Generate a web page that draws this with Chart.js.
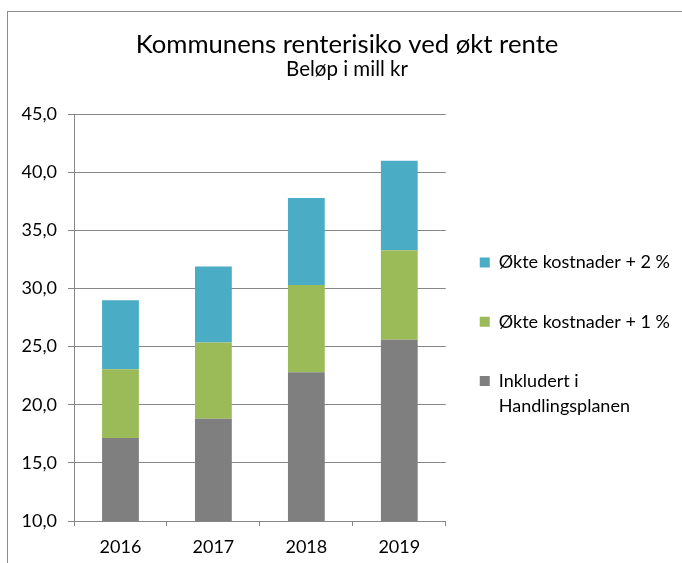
<!DOCTYPE html>
<html>
<head>
<meta charset="utf-8">
<script src="https://cdn.jsdelivr.net/npm/chart.js@4/dist/chart.umd.min.js"></script>
<style>
  html, body { margin: 0; padding: 0; background: #fff; overflow: hidden; }
  #wrap { position: relative; width: 682px; height: 563px; }
  #frame {
    position: absolute; left: 7px; top: 11px; width: 700px; height: 600px;
    border-left: 1px solid #8c8c8c; border-top: 1px solid #8c8c8c;
    pointer-events: none;
  }
</style>
</head>
<body>
<div id="wrap">
  <canvas id="renteChart" width="682" height="563"></canvas>
  <div id="frame"></div>
</div>
<script>
const years = ["2016", "2017", "2018", "2019"];
const inkludert = [17.15, 18.8, 22.8, 25.6];
const okt1 = [5.9, 6.55, 7.5, 7.7];
const okt2 = [5.95, 6.55, 7.5, 7.7];
const seriesNames = ["Inkludert i\nHandlingsplanen", "Økte kostnader + 1 %", "Økte kostnader + 2 %"];
const seriesColors = ["#7f7f7f", "#9bbb59", "#4bacc6"];

const gridColor = "#868686";
const fontFamily = "Lato, 'Open Sans', sans-serif";
const textColor = "#000";

const ctx = document.getElementById("renteChart").getContext("2d");

const myChart = new Chart(ctx, {
    type: "bar",
    data: {
        labels: years,
        datasets: [inkludert, okt1, okt2].map((vals, i) => ({
            label: seriesNames[i],
            data: vals,
            backgroundColor: seriesColors[i],
            borderWidth: 0,
            barPercentage: 0.396,
            categoryPercentage: 1
        }))
    },
    options: {
        responsive: false,
        animation: false,
        layout: { padding: { top: 14, left: 14, right: 2, bottom: 5 } },
        plugins: {
            title: {
                display: true,
                text: "Kommunens renterisiko ved økt rente",
                color: textColor,
                font: { family: fontFamily, size: 25.7, weight: "normal", lineHeight: 1 },
                padding: { top: 18, bottom: 0 }
            },
            subtitle: {
                display: true,
                text: "Beløp i mill kr",
                color: textColor,
                font: { family: fontFamily, size: 20.5, weight: "normal", lineHeight: 1.1 },
                padding: { top: 0, bottom: 34 }
            },
            legend: {
                position: "right",
                reverse: true,
                maxWidth: 240,
                // empty title only pushes the items down to where the reference has them
                title: { display: true, text: "", font: { size: 10, lineHeight: 1 }, padding: { top: 94, bottom: 0 } },
                labels: {
                    color: textColor,
                    font: { family: fontFamily, size: 18, lineHeight: 1.4 },
                    boxWidth: 10,
                    boxHeight: 10,
                    padding: 34,
                    generateLabels: function (chart) {
                        const items = Chart.defaults.plugins.legend.labels.generateLabels(chart);
                        items.forEach(it => { it.text = it.text.split("\n"); it.lineWidth = 0; });
                        return items;
                    }
                }
            },
            tooltip: { enabled: false }
        },
        scales: {
            x: {
                stacked: true,
                afterFit: scale => { scale.height = 37; },
                grid: {
                    display: true,
                    drawOnChartArea: false,
                    drawTicks: true,
                    tickLength: 5,
                    color: gridColor,
                    offset: true
                },
                border: { display: true, color: gridColor },
                ticks: {
                    color: textColor,
                    padding: 10,
                    font: { family: fontFamily, size: 18 }
                }
            },
            y: {
                stacked: true,
                min: 10,
                max: 45,
                afterFit: scale => { scale.width = 60; },
                grid: { color: gridColor, tickLength: 6 },
                border: { display: true, color: gridColor },
                ticks: {
                    stepSize: 5,
                    color: textColor,
                    padding: 11,
                    font: { family: fontFamily, size: 18 },
                    callback: v => v.toFixed(1).replace(".", ",")
                }
            }
        }
    }
});
</script>
</body>
</html>
